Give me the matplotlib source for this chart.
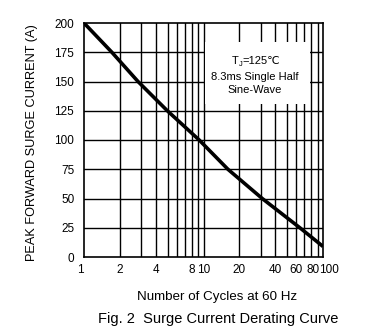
import matplotlib
matplotlib.use("Agg")
import matplotlib.pyplot as plt
import matplotlib.transforms as mtransforms
from matplotlib.patches import Rectangle

cycles = [1, 1.71, 2.83, 4.98, 9.2, 16.0, 31.0, 64, 100]
current = [200, 175, 150, 125, 100, 75, 50, 25, 9]
xtick_vals = [1, 2, 4, 8, 10, 20, 40, 60, 80, 100]
xtick_labels = ["1", "2", "4", "8", "10", "20", "40", "60", "80", "100"]
ytick_vals = [0, 25, 50, 75, 100, 125, 150, 175, 200]
grid_x = [2, 3, 4, 5, 6, 7, 8, 9, 10, 20, 30, 40, 50, 60, 70, 80, 90]

NARROW = ['Liberation Sans Narrow', 'Liberation Sans', 'DejaVu Sans']
plt.rcParams['font.family'] = ['Liberation Sans', 'DejaVu Sans']

fig = plt.figure(figsize=(3.74, 3.36), dpi=100)
ax = fig.add_axes([84/374, 1-257/336, 239/374, 234/336])
ax.set_xscale('log')
ax.set_xlim(1, 100)
ax.set_ylim(0, 200)

for gx in grid_x:
    ax.axvline(gx, color='black', lw=1.0, zorder=1)
for gy in ytick_vals[1:-1]:
    ax.axhline(gy, color='black', lw=1.0, zorder=1)

ax.plot(cycles, current, color='black', lw=2.6, zorder=3, solid_capstyle='butt')

# x tick labels (drawn manually for small offsets)
ax.set_xticks([])
ax.xaxis.set_minor_locator(matplotlib.ticker.NullLocator())
xoff = {0: -4, 9: 6, 8: 2}
for i, (v, lab) in enumerate(zip(xtick_vals, xtick_labels)):
    tr = mtransforms.blended_transform_factory(ax.transData, ax.transAxes) + \
        mtransforms.ScaledTranslation(xoff.get(i, 0)/100, 0, fig.dpi_scale_trans)
    ax.text(v, -0.055, lab, transform=tr, ha='center', va='center',
            fontsize=8.5, family=NARROW)

ax.set_yticks(ytick_vals)
ax.set_yticklabels([str(v) for v in ytick_vals], family=NARROW)
ax.tick_params(length=0, labelsize=8.5, pad=7)
for sp in ax.spines.values():
    sp.set_linewidth(1.2)

# annotation box
ax.add_patch(Rectangle((0.506, 0.654), 0.44, 0.265, transform=ax.transAxes,
                       facecolor='white', edgecolor='none', zorder=2))
fs = 8
t1 = ax.text(0.618, 0.815, "T", transform=ax.transAxes, ha='left', va='bottom',
             fontsize=fs, family=NARROW, zorder=4)
t2 = ax.annotate("J", xy=(1, 0), xycoords=t1, xytext=(0, -1.5),
                 textcoords='offset points', ha='left', va='bottom',
                 fontsize=5.5, family=NARROW, zorder=4)
t3 = ax.annotate("=125\u2103", xy=(1, 0), xycoords=(t2, t1),
                 ha='left', va='bottom', fontsize=fs, family=NARROW, zorder=4)
ax.text(0.715, 0.769, "8.3ms Single Half", transform=ax.transAxes, ha='center',
        va='center', fontsize=fs, family=NARROW, zorder=4)
ax.text(0.715, 0.714, "Sine-Wave", transform=ax.transAxes, ha='center',
        va='center', fontsize=fs, family=NARROW, zorder=4)

fig.text(32/374, 1-142.5/336, "PEAK FORWARD SURGE CURRENT (A)", rotation=90,
         ha='center', va='center', fontsize=9.2)
fig.text(217.5/374, 1-296.7/336, "Number of Cycles at 60 Hz", ha='center',
         va='center', fontsize=9.6)
fig.text(218/374, 1-319/336, "Fig. 2  Surge Current Derating Curve", ha='center',
         va='center', fontsize=10.5)

fig.savefig("out.png", dpi=100)
